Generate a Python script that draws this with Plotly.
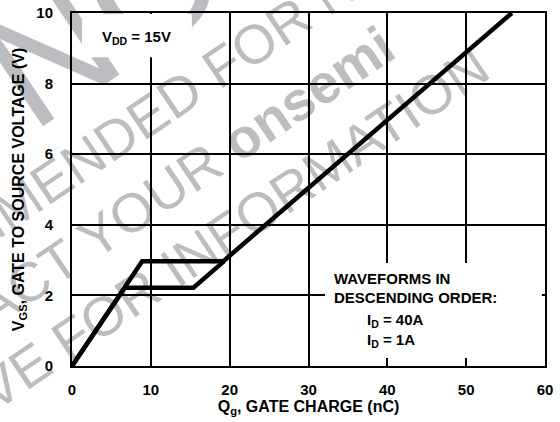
import plotly.graph_objects as go

# Gate charge curves
qg_40a = [0, 8.9, 19.2, 55.8]
vgs_40a = [0, 2.97, 2.97, 10.0]
qg_1a = [0, 6.7, 15.4, 19.3]
vgs_1a = [0, 2.22, 2.22, 2.97]

x_ticks = [0, 10, 20, 30, 40, 50, 60]
y_ticks = [0, 2, 4, 6, 8, 10]

legend_lines = ["WAVEFORMS IN", "DESCENDING ORDER:", "I<sub>D</sub> = 40A", "I<sub>D</sub> = 1A"]
vdd_label = "V<sub>DD</sub> = 15V"

watermark = [
    ("NOT", 165, 0.134, 1.105),
    ("NOT RECOMMENDED FOR NEW DESIGN", 55, 0.193, 0.755),
    ("CONTACT YOUR <b>onsemi</b>", 55, 0.100, 0.427),
    ("REPRESENTATIVE FOR INFORMATION", 55, -0.027, 0.074),
]

FONT = "Liberation Sans, Arial, sans-serif"
WM_COLOR = "#bcbdc0"

fig = go.Figure()
for xs, ys in [(qg_1a, vgs_1a), (qg_40a, vgs_40a)]:
    fig.add_trace(go.Scatter(x=xs, y=ys, mode="lines",
                             line=dict(color="black", width=4.5),
                             showlegend=False, hoverinfo="skip"))

shapes = []
for text, size, px, py in watermark:
    shapes.append(dict(type="rect", xref="paper", yref="paper",
                       x0=px - 0.001, x1=px + 0.001, y0=py - 0.001, y1=py + 0.001,
                       line=dict(width=0, color="rgba(0,0,0,0)"),
                       fillcolor="rgba(0,0,0,0)", layer="below",
                       label=dict(text=text, textangle=-34, textposition="middle center",
                                  font=dict(family=FONT, size=size, color=WM_COLOR))))
# white boxes behind the labels
shapes.append(dict(type="rect", xref="x", yref="y", x0=1.27, x1=15.2, y0=8.75, y1=9.97,
                   fillcolor="white", line=dict(width=0), layer="between"))
shapes.append(dict(type="rect", xref="x", yref="y", x0=32.1, x1=59.6, y0=0.23, y1=2.92,
                   fillcolor="white", line=dict(width=0), layer="between"))

annotations = [
    dict(x=3.55, y=9.31, xref="x", yref="y", text=vdd_label, showarrow=False,
         xanchor="left", yanchor="middle",
         font=dict(family=FONT, size=15, color="black", weight="bold")),
]
leg_pos = [(33.0, 2.49), (33.0, 1.93), (37.2, 1.30), (37.2, 0.73)]
for t, (lx, ly) in zip(legend_lines, leg_pos):
    annotations.append(dict(x=lx, y=ly, xref="x", yref="y", text=t, showarrow=False,
                            xanchor="left", yanchor="middle",
                            font=dict(family=FONT, size=15, color="black", weight="bold")))

axis_common = dict(showgrid=True, gridcolor="black", gridwidth=1.6,
                   showline=True, linecolor="black", linewidth=2, mirror=True,
                   zeroline=False, ticks="", automargin=False,
                   tickfont=dict(family=FONT, size=15, color="black", weight="bold"))

fig.update_layout(
    width=560, height=422,
    margin=dict(l=72, r=15, t=13, b=56),
    paper_bgcolor="white", plot_bgcolor="rgba(0,0,0,0)",
    shapes=shapes, annotations=annotations,
    xaxis=dict(range=[0, 60], tickvals=x_ticks, ticklabelstandoff=9,
               title=dict(text="Q<sub>g</sub>, GATE CHARGE (nC)", standoff=2,
                          font=dict(family=FONT, size=16, color="black", weight="bold")),
               **axis_common),
    yaxis=dict(range=[0, 10], tickvals=y_ticks, ticklabelstandoff=14,
               title=dict(text="V<sub>GS</sub>, GATE TO SOURCE VOLTAGE (V)", standoff=8,
                          font=dict(family=FONT, size=16, color="black", weight="bold")),
               **axis_common),
)

fig.write_html("out.html", config={"displayModeBar": False},
               post_script="document.body.style.margin='0';")
